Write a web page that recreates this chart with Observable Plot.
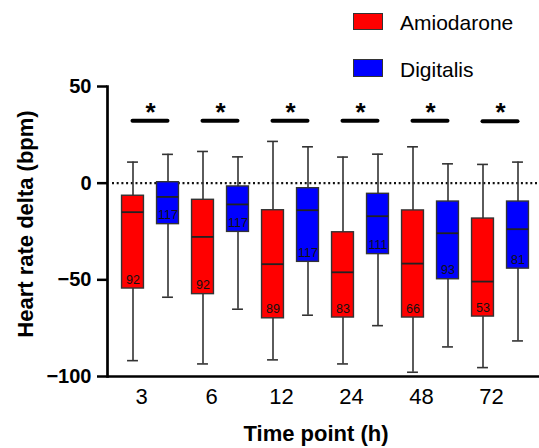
<!DOCTYPE html>
<html><head><meta charset="utf-8">
<script src="https://cdn.jsdelivr.net/npm/d3@7"></script>
<script src="https://cdn.jsdelivr.net/npm/@observablehq/plot@0.6"></script>
<style>
body{margin:0;background:#fff;font-family:"Liberation Sans",Arial,sans-serif;}
#wrap{position:relative;width:539px;height:448px;overflow:hidden;}
.sw{position:absolute;left:353px;width:28px;height:15px;border:1px solid #333;}
.lt{position:absolute;left:400px;font-size:21px;line-height:21px;color:#000;white-space:nowrap;}
</style></head><body>
<div id="wrap">
<div id="chart"></div>
<div class="sw" style="top:13px;background:#ff0000"></div>
<div class="lt" style="top:11.5px">Amiodarone</div>
<div class="sw" style="top:59px;height:16px;background:#0000ff"></div>
<div class="lt" style="top:59px">Digitalis</div>
</div>
<script>
const times = ["3", "6", "12", "24", "48", "72"];
const yTicks = [50, 0, -50, -100];

const amioMax = [10.9, 16.4, 21.6, 13.5, 18.8, 9.7];
const amioQ3  = [-6.5, -8.6, -14.0, -25.4, -14.1, -18.3];
const amioMed = [-15.0, -27.8, -41.9, -46.1, -41.6, -50.9];
const amioQ1  = [-54.5, -57.4, -69.9, -69.5, -69.5, -69.0];
const amioMin = [-91.8, -93.5, -91.4, -93.5, -97.8, -95.4];
const amioN   = [92, 92, 89, 83, 66, 53];

const digMax = [14.9, 13.6, 18.8, 15.0, 10.0, 10.9];
const digQ3  = [0.5, -1.7, -2.6, -5.5, -9.5, -9.5];
const digMed = [-7.1, -11.0, -14.0, -17.1, -25.9, -23.8];
const digQ1  = [-21.2, -25.2, -40.7, -36.7, -49.7, -44.2];
const digMin = [-59.0, -65.2, -68.3, -73.7, -84.7, -81.6];
const digN   = [117, 117, 117, 111, 93, 81];

const sigY = [32.3, 32.3, 32.3, 32.3, 32.3, 32.0];
const sigLabel = ["*", "*", "*", "*", "*", "*"];

const mk = (mx, q3, md, q1, mn, n) => times.map((t, i) => ({time: t, max: mx[i], q3: q3[i], med: md[i], q1: q1[i], min: mn[i], n: n[i]}));
const amio = mk(amioMax, amioQ3, amioMed, amioQ1, amioMin, amioN);
const dig = mk(digMax, digQ3, digMed, digQ1, digMin, digN);
const sig = times.map((t, i) => ({time: t, y: sigY[i], s: sigLabel[i]}));

const half = 70.1 / 2, off = 17.5, bw = 11, cw = 5.5;
function boxMarks(data, color, sign) {
  const c = sign * off;
  const bl = half + c - bw, br = half - c - bw;
  const cl = half + c - cw, cr = half - c - cw;
  return [
    Plot.ruleX(data, {x: "time", y1: "min", y2: "max", dx: c, stroke: "#333", strokeWidth: 1.6}),
    Plot.tickY(data, {x: "time", y: "min", insetLeft: cl, insetRight: cr, stroke: "#333", strokeWidth: 1.6}),
    Plot.tickY(data, {x: "time", y: "max", insetLeft: cl, insetRight: cr, stroke: "#333", strokeWidth: 1.6}),
    Plot.barY(data, {x: "time", y1: "q1", y2: "q3", insetLeft: bl, insetRight: br, fill: color, stroke: "#333", strokeWidth: 1.4}),
    Plot.tickY(data, {x: "time", y: "med", insetLeft: bl, insetRight: br, stroke: "#222", strokeWidth: 1.8}),
    Plot.text(data, {x: "time", y: "q1", text: "n", dx: c, dy: -9, fontSize: 12.5, fill: "#111"})
  ];
}

const chart = Plot.plot({
  width: 539,
  height: 448,
  marginTop: 86,
  marginBottom: 72,
  marginLeft: 107,
  marginRight: 0,
  style: {fontFamily: "'Liberation Sans', Arial, sans-serif", fontSize: "12px", color: "#000", background: "transparent"},
  x: {domain: times, paddingInner: 0, paddingOuter: 0.0813, align: 0.636},
  y: {domain: [-100, 50]},
  marks: [
    Plot.ruleY([0], {strokeDasharray: "2,2.7", strokeWidth: 2.2, stroke: "#111", insetLeft: 5}),
    ...boxMarks(amio, "#ff0000", -1),
    ...boxMarks(dig, "#0000ff", 1),
    Plot.tickY(sig, {x: "time", y: "y", insetLeft: 17.5, insetRight: 17.5, stroke: "#000", strokeWidth: 4, strokeLinecap: "round"}),
    Plot.text(sig, {x: "time", y: "y", text: "s", lineAnchor: "bottom", fontSize: 26, fontWeight: "bold", fill: "#000"}),
    Plot.frame({anchor: "left", strokeWidth: 2.7, stroke: "#000"}),
    Plot.ruleY([-100], {strokeWidth: 2.7, stroke: "#000"}),
    Plot.axisY(yTicks, {tickSize: 10, tickPadding: 6, fontSize: 20, fontWeight: "bold", strokeWidth: 2.5, label: null}),
    Plot.axisX({tickSize: 0, tickPadding: 12, fontSize: 22, label: null, dx: -9}),
    Plot.text(["Heart rate delta (bpm)"], {frameAnchor: "left", textAnchor: "middle", lineAnchor: "middle", rotate: -90, dx: -82, dy: -7.5, fontSize: 22, fontWeight: "bold", fill: "#000"}),
    Plot.text(["Time point (h)"], {frameAnchor: "bottom", textAnchor: "middle", dx: -7.5, dy: 64, lineAnchor: "bottom", fontSize: 22, fontWeight: "bold", fill: "#000"})
  ]
});
document.getElementById("chart").appendChild(chart);
</script>
</body></html>
